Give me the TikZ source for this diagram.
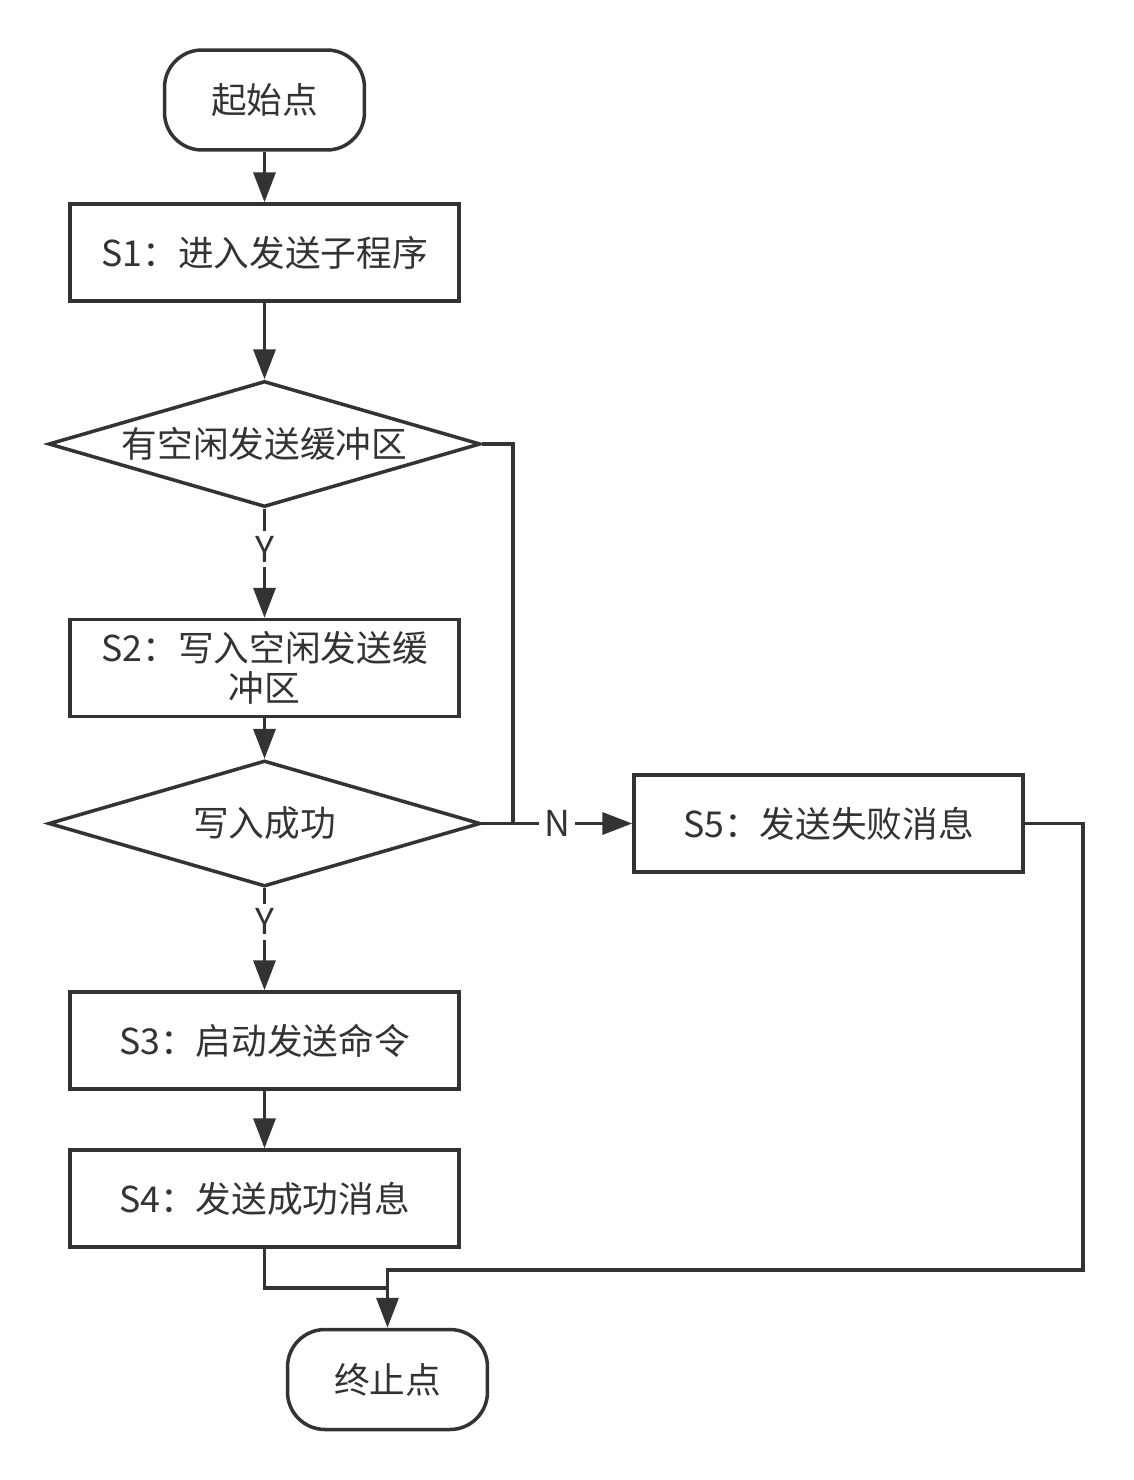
\documentclass[tikz,border=0pt]{standalone}
\usepackage{fontspec}
\setmainfont{Noto Sans CJK SC}
\usetikzlibrary{arrows.meta, positioning, shapes.geometric}
\definecolor{linegray}{HTML}{333333}

\begin{document}
\begin{tikzpicture}[>={Triangle[length=0.6cm,width=0.44cm]}, x=0.02cm, y=-0.02cm,
  every node/.style={font=\fontsize{20.3}{22.7}\selectfont, text=linegray},
  box/.style={draw=linegray, line width=2pt, minimum width=7.78cm, minimum height=1.94cm, align=center},
  term/.style={draw=linegray, line width=2pt, rounded corners=0.75cm, minimum width=4cm, minimum height=2cm},
  decide/.style={draw=linegray, line width=2pt, diamond, aspect=3.4, inner sep=0pt, minimum width=8.64cm, minimum height=2.52cm},
  flow/.style={->, draw=linegray, line width=2pt},
  link/.style={draw=linegray, line width=2pt},
  tag/.style={fill=white, inner sep=3pt}]

% 畫布
\fill[white] (0,0) rectangle (1133,1480);
\useasboundingbox (0,0) rectangle (1133,1480);

% 節點
\node[term] (start) at (264.5,100) {起始点};
\node[box] (s1) at (264.5,252.5) {S1：进入发送子程序};
\node[decide] (d1) at (264.5,444) {有空闲发送缓冲区};
\node[box] (s2) at (264.5,668) {S2：写入空闲发送缓\\冲区};
\node[decide] (d2) at (264.5,823.5) {写入成功};
\node[box] (s5) at (828.5,823.5) {S5：发送失败消息};
\node[box] (s3) at (264.5,1040.5) {S3：启动发送命令};
\node[box] (s4) at (264.5,1198.5) {S4：发送成功消息};
\node[term] (stop) at (387.5,1379.5) {终止点};

% 轉折點
\coordinate (njoin) at (513,823.5);
\coordinate (merge) at (387.5,1288);
\coordinate (rturn) at (1083,1270);

% 主流程
\draw[flow] (start) -- (s1);
\draw[flow] (s1) -- (d1);
\draw[flow] (d1) -- node[tag,pos=0.37] {Y} (s2);
\draw[flow] (s2) -- (d2);
\draw[flow] (d2) -- node[tag,pos=0.33] {Y} (s3);
\draw[flow] (s3) -- (s4);

% 失敗分支
\draw[link] (d1.east) -| (njoin);
\draw[flow] (d2.east) -- node[tag,pos=0.5] {N} (s5.west);

% 匯合到終止點
\draw[link] (s4.south) |- (merge);
\draw[flow] (s5.east) -| (rturn) -| (stop.north);

\end{tikzpicture}
\end{document}
